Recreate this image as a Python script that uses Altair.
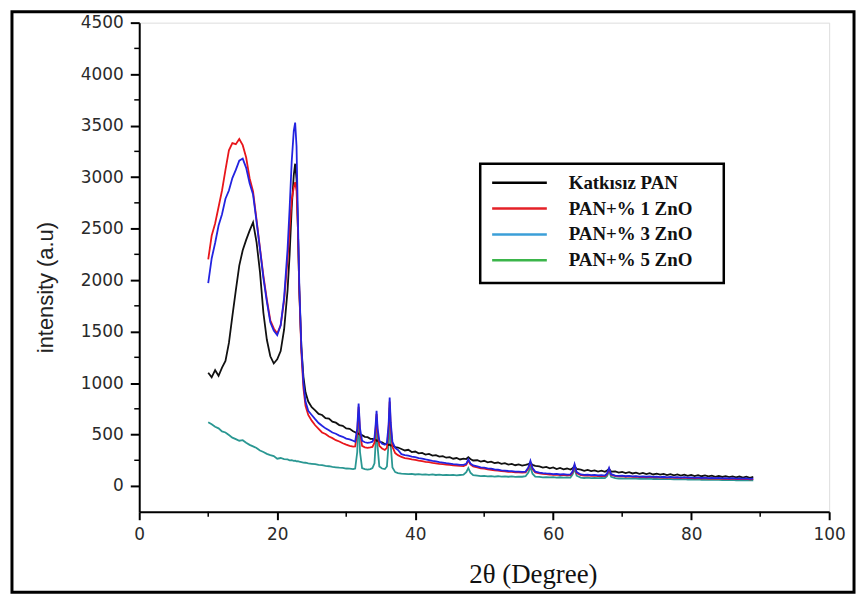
import altair as alt
import pandas as pd

series_names = ["Katkısız PAN", "PAN+% 1 ZnO", "PAN+% 3 ZnO", "PAN+% 5 ZnO"]
line_colors = ["#111111", "#e8161b", "#2323e0", "#2a9792"]
legend_colors = ["#000000", "#e42127", "#3b9fd8", "#3bb54a"]

two_theta = [
    10.0, 10.5, 11.0, 11.5, 12.0, 12.5, 13.0, 13.5, 14.0, 14.5, 15.0, 15.5, 16.0, 16.5, 17.0, 17.5, 18.0, 18.5, 19.0, 19.5, 20.0,
    20.5, 21.0, 21.5, 21.8, 22.1, 22.4, 22.6, 22.8, 23.0, 23.2, 23.5, 23.8, 24.1, 24.5, 25.0,
    25.5, 26.0, 26.5, 27.0, 27.5, 28.0, 28.5, 29.0, 29.5, 30.0, 30.5, 31.0,
    31.3, 31.6, 31.8, 32.0, 32.3, 32.7, 33.1, 33.5, 33.8, 34.1, 34.25, 34.4, 34.55, 34.8, 35.2, 35.6, 35.9, 36.15, 36.3, 36.45, 36.7, 37.1, 37.5,
    38.0, 38.5, 39.0, 39.5, 40.0, 40.5, 41.0, 41.5, 42.0, 42.5, 43.0, 43.5, 44.0, 44.5, 45.0, 45.5, 46.0, 46.5, 47.0,
    47.4, 47.7, 48.0, 48.4,
    49.0, 49.5, 50.0, 50.5, 51.0, 51.5, 52.0, 52.5, 53.0, 53.5, 54.0, 54.5, 55.0, 55.5, 56.0,
    56.4, 56.7, 57.0, 57.4,
    58.0, 58.5, 59.0, 59.5, 60.0, 60.5, 61.0, 61.5, 62.0, 62.5,
    62.8, 63.1, 63.4,
    64.0, 64.5, 65.0, 65.5, 66.0, 66.5, 67.0, 67.5,
    67.8, 68.1, 68.4,
    69.0, 69.5, 70.0, 70.5, 71.0, 71.5, 72.0, 72.5, 73.0, 73.5, 74.0, 74.5, 75.0, 75.5, 76.0, 76.5, 77.0, 77.5, 78.0, 78.5,
    79.0, 79.5, 80.0, 80.5, 81.0, 81.5, 82.0, 82.5, 83.0, 83.5, 84.0, 84.5, 85.0, 85.5, 86.0, 86.5, 87.0, 87.5, 88.0, 88.5, 89.0,
]

katkisiz_pan = [
    1100, 1055, 1125, 1070, 1150, 1215, 1390, 1650, 1900, 2140, 2290, 2390, 2480, 2560, 2370, 2080, 1680, 1420, 1260, 1190, 1230,
    1310, 1520, 1900, 2250, 2700, 3020, 3130, 2980, 2500, 1900, 1350, 1060, 910, 820, 765,
    735, 700, 690, 660, 655, 625, 615, 592, 585, 560, 555, 532,
    522, 510, 508, 498, 494, 478, 474, 458, 458, 448, 450, 440, 442, 428, 424, 408, 410, 398, 402, 392, 394, 378, 374,
    360, 345, 352, 330, 335, 318, 322, 305, 312, 295, 300, 285, 290, 275, 280, 265, 272, 258, 265,
    262, 280, 262, 248,
    250, 238, 245, 230, 236, 222, 228, 215, 222, 208, 215, 202, 210, 198, 205,
    212, 225, 205, 195,
    190, 178, 186, 172, 180, 165, 175, 162, 170, 160,
    172, 195, 166,
    160, 148, 156, 145, 152, 140, 150, 138,
    150, 165, 140,
    142, 130, 138, 126, 134, 122, 130, 118, 127, 115, 124, 112, 121, 110, 118, 107, 116, 104, 113, 102,
    110, 99, 108, 97, 105, 95, 103, 93, 100, 90, 98, 88, 96, 86, 94, 84, 92, 82, 90, 80, 88,
]

pan_zno_1 = [
    2200, 2430, 2550, 2710, 2870, 3070, 3260, 3330, 3320, 3370, 3310, 3190, 2990, 2860, 2590, 2310, 2040, 1810, 1610, 1530, 1480,
    1560, 1800, 2200, 2500, 2780, 2900, 2950, 2870, 2500, 1900, 1300, 950, 780, 690, 635,
    590, 555, 520, 505, 480, 465, 445, 432, 415, 402, 390, 382,
    385, 520, 770, 520, 390, 375, 370, 375, 380, 420, 540, 700, 520, 390, 365, 350, 370, 560, 820, 580, 380, 320, 300,
    282, 272, 266, 258, 253, 246, 241, 235, 231, 225, 221, 215, 212, 208, 205, 201, 198, 195, 194,
    205, 250, 210, 190,
    180, 172, 168, 162, 158, 152, 150, 145, 142, 138, 137, 133, 132, 130, 132,
    170, 230, 165, 132,
    122, 118, 115, 112, 108, 110, 105, 108, 103, 105,
    130, 200, 125,
    105, 100, 103, 98, 101, 96, 99, 95,
    112, 165, 108,
    96, 93, 95, 90, 93, 88, 91, 87, 89, 85, 88, 83, 86, 82, 85, 80, 84, 79, 82, 77,
    81, 76, 79, 75, 78, 73, 76, 72, 75, 71, 74, 69, 72, 68, 71, 67, 70, 66, 69, 65, 67,
]

pan_zno_3 = [
    1970, 2210, 2360, 2530, 2640, 2790, 2870, 2990, 3070, 3160, 3180, 3090, 2940, 2830, 2570, 2300, 2020, 1790, 1590, 1510, 1465,
    1560, 1830, 2300, 2700, 3150, 3450, 3530, 3300, 2600, 1950, 1350, 1000, 820, 730, 690,
    650, 612, 585, 560, 542, 520, 508, 490, 478, 460, 452, 440,
    430, 560, 800, 560, 440, 425, 420, 425, 430, 470, 580, 730, 560, 440, 410, 400, 420, 600, 860, 620, 430, 370, 350,
    310, 300, 295, 285, 280, 270, 265, 258, 252, 245, 240, 232, 228, 222, 218, 212, 210, 205, 205,
    215, 260, 220, 200,
    190, 182, 178, 172, 168, 162, 158, 152, 150, 146, 145, 140, 140, 138, 140,
    180, 245, 175, 140,
    130, 125, 122, 120, 115, 118, 112, 115, 110, 112,
    140, 212, 135,
    112, 108, 110, 105, 108, 103, 106, 102,
    120, 175, 115,
    102, 98, 100, 95, 98, 93, 96, 92, 94, 90, 93, 88, 91, 87, 90, 85, 89, 84, 87, 82,
    86, 81, 84, 80, 83, 78, 81, 77, 80, 76, 79, 74, 77, 73, 76, 72, 75, 71, 74, 70, 72,
]

pan_zno_5 = [
    620, 600, 575, 560, 530, 520, 495, 470, 455, 440, 445, 420, 400, 385, 370, 345, 330, 312, 300, 290, 265,
    272, 262, 258, 250, 252, 245, 246, 240, 242, 236, 232, 228, 226, 220, 216,
    212, 205, 202, 195, 192, 185, 182, 178, 176, 170, 168, 165,
    170, 330, 700, 330, 175, 165, 160, 165, 175, 220, 400, 620, 380, 190, 170, 165, 190, 420, 760, 400, 180, 135, 125,
    120, 118, 115, 118, 112, 115, 110, 113, 108, 112, 107, 110, 106, 109, 105, 108, 104, 107, 110,
    135, 175, 130, 105,
    100, 96, 98, 94, 96, 92, 95, 91, 94, 90, 93, 89, 92, 90, 95,
    130, 185, 120, 92,
    88, 84, 87, 83, 86, 82, 85, 81, 84, 82,
    110, 165, 100,
    82, 78, 81, 77, 80, 76, 79, 76,
    95, 140, 90,
    76, 73, 75, 72, 74, 71, 73, 70, 72, 69, 71, 68, 70, 67, 69, 66, 68, 65, 67, 64,
    66, 63, 65, 62, 64, 61, 63, 60, 62, 59, 61, 58, 60, 57, 59, 56, 58, 55, 57, 54, 56,
]

series_values = [katkisiz_pan, pan_zno_1, pan_zno_3, pan_zno_5]
for vals in series_values:
    assert len(vals) == len(two_theta), len(vals)

x_major = [0, 20, 40, 60, 80, 100]
x_minor = [10, 30, 50, 70, 90]
y_major = [0, 500, 1000, 1500, 2000, 2500, 3000, 3500, 4000, 4500]
y_minor = [250, 750, 1250, 1750, 2250, 2750, 3250, 3750, 4250]

W, H = 694, 492

x_scale = alt.Scale(domain=[0, 100], nice=False, zero=False)
y_scale = alt.Scale(domain=[-250, 4500], nice=False, zero=False)

x_axis = alt.Axis(
    values=x_major, format="d", title="2θ (Degree)", titleFont="Liberation Serif", titleFontSize=27,
    titleFontWeight="normal", titleColor="#111111", titleX=396, titleY=63,
    titleBaseline="middle", titleAlign="center",
    labelFont="DejaVu Sans", labelFontSize=17, labelColor="#2a2a2a", labelPadding=7,
    labelFlush=False, tickSize=8, tickWidth=2, tickColor="black",
    domainColor="black", domainWidth=2, grid=False,
)
y_axis = alt.Axis(
    values=y_major, format="d", title="intensity (a.u)", titleFont="Liberation Sans", titleFontSize=22,
    titleFontWeight="normal", titleColor="#222222", titleX=-94, titleY=266,
    titleAngle=270, titleBaseline="middle", titleAlign="center",
    labelFont="DejaVu Sans", labelFontSize=17, labelColor="#2a2a2a", labelPadding=7,
    labelFlush=False, tickSize=9, tickWidth=2, tickColor="black",
    domainColor="black", domainWidth=2, grid=False,
)

frame = alt.Chart(pd.DataFrame({"a": [0]})).mark_rect(
    fill="white", fillOpacity=0, stroke="black", strokeWidth=3
).encode(x=alt.value(-128), x2=alt.value(719), y=alt.value(-11), y2=alt.value(573))

line_layers = []
for i in [3, 0, 1, 2]:
    d = pd.DataFrame({"two_theta": two_theta, "intensity": series_values[i]})
    line_layers.append(
        alt.Chart(d).mark_line(color=line_colors[i], strokeWidth=1.8, clip=True).encode(
            x=alt.X("two_theta:Q", scale=x_scale, axis=x_axis),
            y=alt.Y("intensity:Q", scale=y_scale, axis=y_axis),
        )
    )

x_minor_ticks = alt.Chart(pd.DataFrame({"two_theta": x_minor})).mark_rule(color="black", strokeWidth=1.5).encode(
    x=alt.X("two_theta:Q", scale=x_scale, axis=x_axis), y=alt.value(H), y2=alt.value(H + 5)
)
y_minor_ticks = alt.Chart(pd.DataFrame({"intensity": y_minor})).mark_rule(color="black", strokeWidth=1.5).encode(
    y=alt.Y("intensity:Q", scale=y_scale, axis=y_axis), x=alt.value(0), x2=alt.value(-5)
)

legend_df = pd.DataFrame({"series": series_names, "row": [0, 1, 2, 3]})
legend_box = alt.Chart(pd.DataFrame({"a": [0]})).mark_rect(
    fill="white", stroke="black", strokeWidth=2.5
).encode(x=alt.value(343), x2=alt.value(588), y=alt.value(142), y2=alt.value(262))
legend_lines = alt.Chart(legend_df).transform_calculate(py="161 + 26*datum.row").mark_rule(
    strokeWidth=2.5
).encode(
    x=alt.value(355), x2=alt.value(410),
    y=alt.Y("py:Q", scale=None),
    color=alt.Color("series:N", scale=alt.Scale(domain=series_names, range=legend_colors), legend=None),
)
legend_text = alt.Chart(legend_df).transform_calculate(py="161 + 26*datum.row").mark_text(
    align="left", baseline="middle", font="Liberation Serif", fontSize=19, fontWeight="bold", color="#111111"
).encode(
    x=alt.value(432), y=alt.Y("py:Q", scale=None), text="series:N"
)

chart = alt.layer(
    frame, *line_layers, x_minor_ticks, y_minor_ticks, legend_box, legend_lines, legend_text
).properties(
    width=W, height=H,
    autosize=alt.AutoSizeParams(type="none"),
    padding={"left": 132, "top": 13, "right": 28, "bottom": 82},
).configure_view(stroke="black", strokeWidth=2).configure(background="white")

chart.save("out.html", embed_options={"renderer": "svg", "actions": False})
